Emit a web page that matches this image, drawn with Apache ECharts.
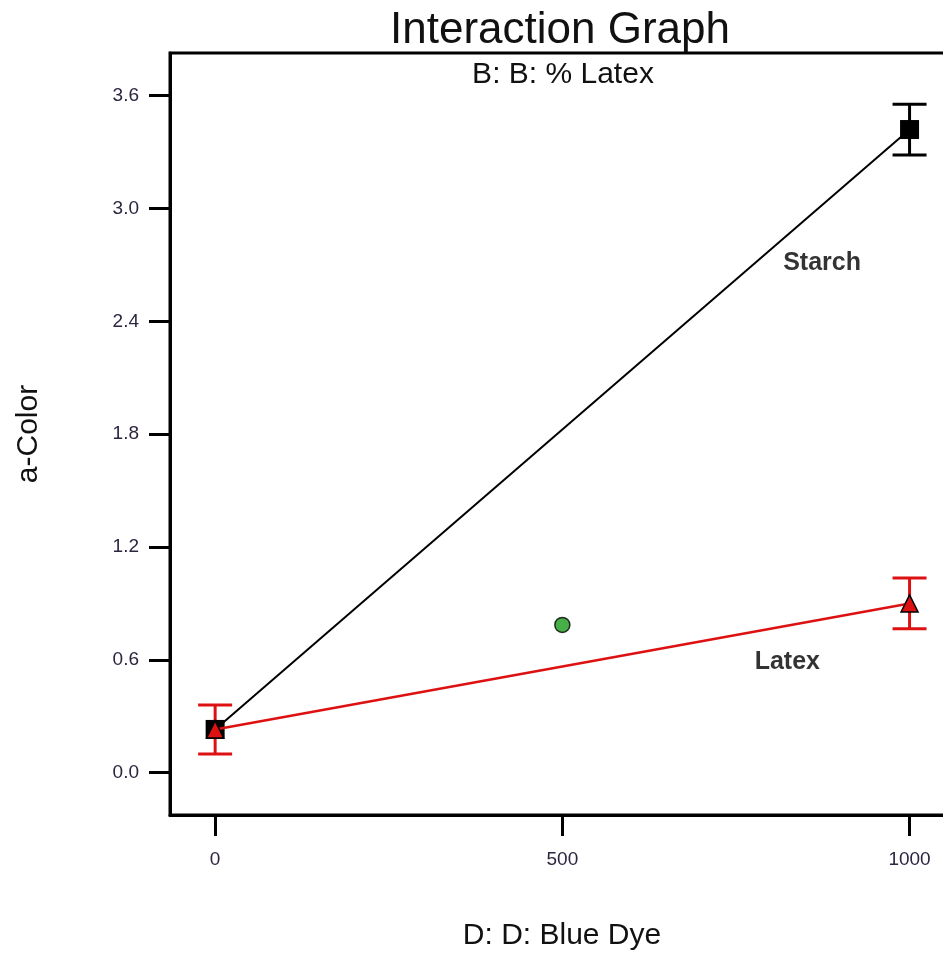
<!DOCTYPE html>
<html>
<head>
<meta charset="UTF-8">
<title>Interaction Graph</title>
<script src="https://cdn.jsdelivr.net/npm/echarts@6/dist/echarts.min.js"></script>
<style>
  html, body { margin: 0; padding: 0; background: #fff; }
  #chart { width: 943px; height: 979px; }
</style>
</head>
<body>
<div id="chart"></div>
<script>
// data
var dyeLevels = [0, 1000];
var starchMeans = [0.23, 3.42];
var starchErr = [0.13, 0.135];
var latexMeans = [0.23, 0.90];
var latexErr = [0.13, 0.135];
var centerPoint = [500, 0.786];
var xTicks = [0, 500, 1000];
var yTicks = [0, 0.6, 1.2, 1.8, 2.4, 3.0, 3.6];
var seriesNames = ['Starch', 'Latex'];
var labelPos = [[874, 2.71], [824, 0.59]];

function pairs(xs, ys) {
  var out = [];
  for (var i = 0; i < xs.length; i++) out.push([xs[i], ys[i]]);
  return out;
}
function errRows(xs, ys, es) {
  var out = [];
  for (var i = 0; i < xs.length; i++) out.push([xs[i], ys[i] - es[i], ys[i] + es[i]]);
  return out;
}
// vertical bar with two caps
function errorBar(color) {
  return function (params, api) {
    var top = api.coord([api.value(0), api.value(2)]);
    var bot = api.coord([api.value(0), api.value(1)]);
    var half = 17;
    var st = { stroke: color, lineWidth: 3 };
    return {
      type: 'group',
      children: [
        { type: 'line', shape: { x1: top[0], y1: top[1], x2: bot[0], y2: bot[1] }, style: st },
        { type: 'line', shape: { x1: top[0] - half, y1: top[1], x2: top[0] + half, y2: top[1] }, style: st },
        { type: 'line', shape: { x1: bot[0] - half, y1: bot[1], x2: bot[0] + half, y2: bot[1] }, style: st }
      ]
    };
  };
}

var chart = echarts.init(document.getElementById('chart'));
var font = 'Arial, "Liberation Sans", sans-serif';
var red = '#dd1111';

var option = {
  animation: false,
  backgroundColor: '#fff',
  graphic: [
    { type: 'text', x: 560, y: 31, z: 10, style: { text: 'Interaction Graph', font: '44px ' + font, fill: '#111', align: 'center', verticalAlign: 'middle' } },
    { type: 'text', x: 563, y: 75, z: 10, style: { text: 'B: B: % Latex', font: '30px ' + font, fill: '#111', align: 'center', verticalAlign: 'middle' } }
  ],
  grid: { left: 170, top: 53, width: 784, height: 762, show: true, borderColor: '#000', borderWidth: 3,
    backgroundColor: 'transparent', containLabel: false, outerBoundsMode: 'none' },
  xAxis: {
    type: 'value', min: -65, max: 1064,
    name: 'D: D: Blue Dye', nameLocation: 'middle', nameGap: 106,
    nameTextStyle: { fontSize: 30, color: '#111', fontFamily: font },
    axisLine: { onZero: false, lineStyle: { color: '#000', width: 3 } },
    axisTick: { show: true, inside: false, length: 21, lineStyle: { color: '#000', width: 3 }, customValues: xTicks },
    axisLabel: { margin: 35, fontSize: 19, color: '#2e2540', fontFamily: font, customValues: xTicks,
      formatter: function (v) { return String(v); } },
    splitLine: { show: false }
  },
  yAxis: {
    type: 'value', min: -0.225, max: 3.827,
    name: 'a-Color', nameLocation: 'middle', nameGap: 126, nameRotate: 90,
    nameTextStyle: { fontSize: 30, color: '#111', fontFamily: font },
    axisLine: { onZero: false, lineStyle: { color: '#000', width: 3 } },
    axisTick: { show: true, inside: false, length: 21, lineStyle: { color: '#000', width: 3 }, customValues: yTicks },
    axisLabel: { margin: 31, fontSize: 19, color: '#2e2540', fontFamily: font, customValues: yTicks,
      formatter: function (v) { return v.toFixed(1); } },
    splitLine: { show: false }
  },
  series: [
    {
      name: seriesNames[0], type: 'line', z: 2,
      data: pairs(dyeLevels, starchMeans),
      lineStyle: { color: '#000', width: 2 },
      symbol: 'rect', symbolSize: 19, itemStyle: { color: '#000' }
    },
    {
      name: 'starchErr', type: 'custom', z: 1,
      data: errRows(dyeLevels.slice(1), starchMeans.slice(1), starchErr.slice(1)),
      renderItem: errorBar('#000')
    },
    {
      name: 'latexErr', type: 'custom', z: 1,
      data: errRows(dyeLevels, latexMeans, latexErr),
      renderItem: errorBar(red)
    },
    {
      name: seriesNames[1], type: 'line', z: 3,
      data: pairs(dyeLevels, latexMeans),
      lineStyle: { color: red, width: 2.5 },
      symbol: 'triangle', symbolSize: 17,
      itemStyle: { color: red, borderColor: '#000', borderWidth: 1.5 }
    },
    {
      name: 'center', type: 'scatter', z: 4,
      data: [centerPoint],
      symbol: 'circle', symbolSize: 15,
      itemStyle: { color: '#1a9a1a', borderColor: '#000', borderWidth: 1.5 }
    },
    {
      name: 'labels', type: 'scatter', z: 5, symbolSize: 0, silent: true,
      data: labelPos.map(function (p, i) { return { value: p, name: seriesNames[i] }; }),
      label: { show: true, position: 'inside', formatter: '{b}', fontSize: 25, fontWeight: 'bold',
        color: '#000', textBorderWidth: 0, fontFamily: font }
    }
  ]
};
chart.setOption(option);
</script>
</body>
</html>
